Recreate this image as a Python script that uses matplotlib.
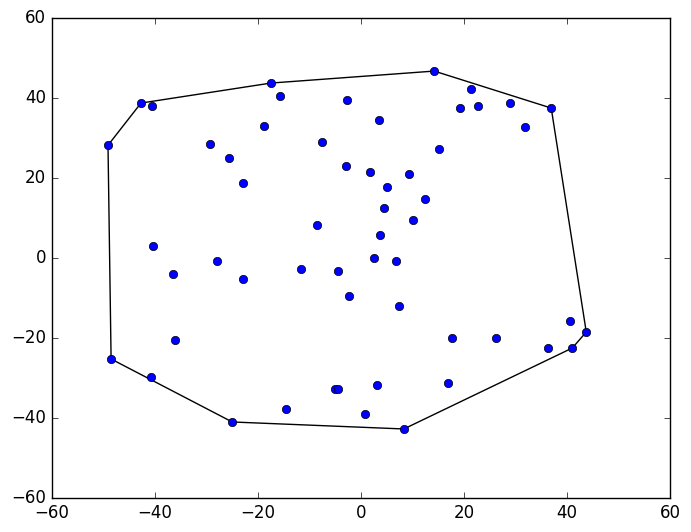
import matplotlib
matplotlib.use("Agg")
import matplotlib.pyplot as plt

plt.style.use('classic')

x_values = [-49.1, -42.7, -40.6, -17.5, -15.7, 14.2, 21.4, 19.2, 22.7, 28.9,
            36.9, 31.8, -2.7, 3.5, -18.8, -29.3, -25.6, -7.6, -22.9, -2.9,
            15.1, 1.7, 9.3, 5.0, 12.4, 4.5, -8.5, 10.1, 3.7, -40.4,
            2.5, 6.8, -28.0, -36.5, -22.9, -11.7, -4.5, -2.3, 7.4, -36.1,
            17.7, 26.2, 40.6, 43.7, 36.3, 41.0, -48.5, -40.8, 16.9, 3.1,
            -5.0, -4.5, -14.6, 0.8, -25.0, 8.3]
y_values = [28.2, 38.75, 38.0, 43.75, 40.5, 46.75, 42.25, 37.5, 38.0, 38.75,
            37.5, 32.75, 39.5, 34.5, 33.0, 28.5, 25.0, 29.0, 18.75, 23.0,
            27.25, 21.5, 21.0, 17.75, 14.75, 12.5, 8.25, 9.5, 5.75, 3.0,
            0.0, -0.75, -0.75, -4.0, -5.25, -2.75, -3.25, -9.5, -12.0, -20.5,
            -20.0, -20.0, -15.75, -18.5, -22.5, -22.5, -25.25, -29.75, -31.25, -31.75,
            -32.75, -32.75, -37.75, -39.0, -41.0, -42.75]


def cross(o, a, b):
    return (a[0] - o[0]) * (b[1] - o[1]) - (a[1] - o[1]) * (b[0] - o[0])


def convex_hull(points):
    pts = sorted(points)
    lower = []
    for p in pts:
        while len(lower) >= 2 and cross(lower[-2], lower[-1], p) <= 0:
            lower.pop()
        lower.append(p)
    upper = []
    for p in reversed(pts):
        while len(upper) >= 2 and cross(upper[-2], upper[-1], p) <= 0:
            upper.pop()
        upper.append(p)
    return lower[:-1] + upper[:-1]


def main():
    hull = convex_hull(list(zip(x_values, y_values)))
    hull.append(hull[0])
    hx = [p[0] for p in hull]
    hy = [p[1] for p in hull]

    fig = plt.figure(figsize=(6.91, 5.32), dpi=100)
    ax = fig.add_axes([0.075, 0.064, 0.895, 0.902])
    ax.plot(hx, hy, 'k-')
    ax.plot(x_values, y_values, 'bo')
    ax.set_xlim(-60, 60)
    ax.set_ylim(-60, 60)
    fig.savefig("out.png", dpi=100)


if __name__ == "__main__":
    main()
